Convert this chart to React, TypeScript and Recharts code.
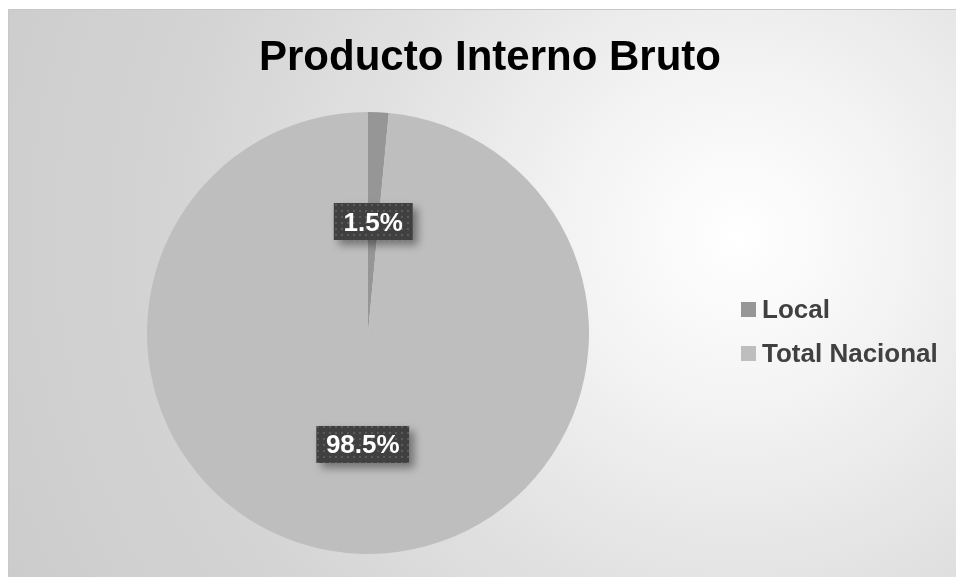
import { PieChart, Pie, Cell } from "recharts";

const categories = ["Local", "Total Nacional"];
const shares = [1.5, 98.5];
const colors = ["#969696", "#bebebe"];

const chartData = categories.map((name, i) => ({
  name,
  value: shares[i],
  color: colors[i],
}));

const FONT = "'Liberation Sans', Arial, sans-serif";
const RAD = Math.PI / 180;

// rough bold Arial widths, in em
const CHAR_W: Record<string, number> = { ".": 0.278, "%": 0.889 };
function textWidth(s: string, size: number) {
  return s.split("").reduce((w, c) => w + (CHAR_W[c] ?? 0.556), 0) * size;
}

function renderLabel(props: any) {
  const { cx, cy, midAngle, outerRadius, value, index } = props;
  const r = outerRadius * 0.505;
  const x = cx + r * Math.cos(-midAngle * RAD);
  const y = cy + r * Math.sin(-midAngle * RAD);
  const text = `${value.toFixed(1)}%`;
  const w = textWidth(text, 25) + 22;
  const h = 37;
  const pid = `dots-${index}`;
  const fid = `shadow-${index}`;
  return (
    <g key={`lbl-${index}`}>
      <defs>
        <pattern id={pid} width="6" height="6" patternUnits="userSpaceOnUse">
          <rect width="6" height="6" fill="#404040" />
          <rect x="2" y="2" width="2" height="2" fill="#5a5a5a" />
        </pattern>
        <filter id={fid} x="-30%" y="-40%" width="170%" height="200%">
          <feDropShadow dx="5" dy="5" stdDeviation="4" floodColor="#000" floodOpacity="0.4" />
        </filter>
      </defs>
      <rect
        x={x - w / 2}
        y={y - h / 2}
        width={w}
        height={h}
        fill={`url(#${pid})`}
        filter={`url(#${fid})`}
      />
      <text
        x={x}
        y={y + 9}
        textAnchor="middle"
        fill="#ffffff"
        fontFamily={FONT}
        fontWeight="bold"
        fontSize={26}
      >
        {text}
      </text>
    </g>
  );
}

export default function App() {
  return (
    <div
      style={{
        position: "fixed",
        left: 8,
        top: 9,
        width: 948,
        height: 568,
        boxSizing: "border-box",
        borderTop: "1px solid #c8c8c8",
        borderLeft: "1px solid #c8c8c8",
        background:
          "radial-gradient(circle at 77% 40%, #ffffff 0%, #f5f5f5 18%, #e2e2e2 45%, #d4d4d4 70%, #cccccc 100%)",
        overflow: "hidden",
      }}
    >
      <div
        style={{
          position: "absolute",
          left: 0,
          top: 22,
          width: 962,
          textAlign: "center",
          fontFamily: FONT,
          fontWeight: "bold",
          fontSize: 42,
          color: "#000",
        }}
      >
        Producto Interno Bruto
      </div>
      <PieChart
        width={948}
        height={568}
        margin={{ top: 0, right: 0, bottom: 0, left: 0 }}
        style={{ position: "absolute", left: 0, top: 0 }}
      >
        <Pie
          data={chartData}
          dataKey="value"
          nameKey="name"
          cx={359}
          cy={323}
          outerRadius={221}
          startAngle={90}
          endAngle={-270}
          stroke="none"
          label={renderLabel}
          labelLine={false}
          isAnimationActive={false}
        >
          {chartData.map((d, i) => (
            <Cell key={i} fill={d.color} />
          ))}
        </Pie>
      </PieChart>
      <div
        style={{
          position: "absolute",
          left: 732,
          top: 277,
          fontFamily: FONT,
        }}
      >
        {chartData.map((d) => (
          <div
            key={d.name}
            style={{
              display: "flex",
              alignItems: "center",
              height: 44,
              fontSize: 26,
              fontWeight: "bold",
              color: "#404040",
              whiteSpace: "nowrap",
            }}
          >
            <span
              style={{
                display: "inline-block",
                width: 15,
                height: 15,
                backgroundColor: d.color,
                marginRight: 6,
                flexShrink: 0,
              }}
            />
            <span>{d.name}</span>
          </div>
        ))}
      </div>
    </div>
  );
}
